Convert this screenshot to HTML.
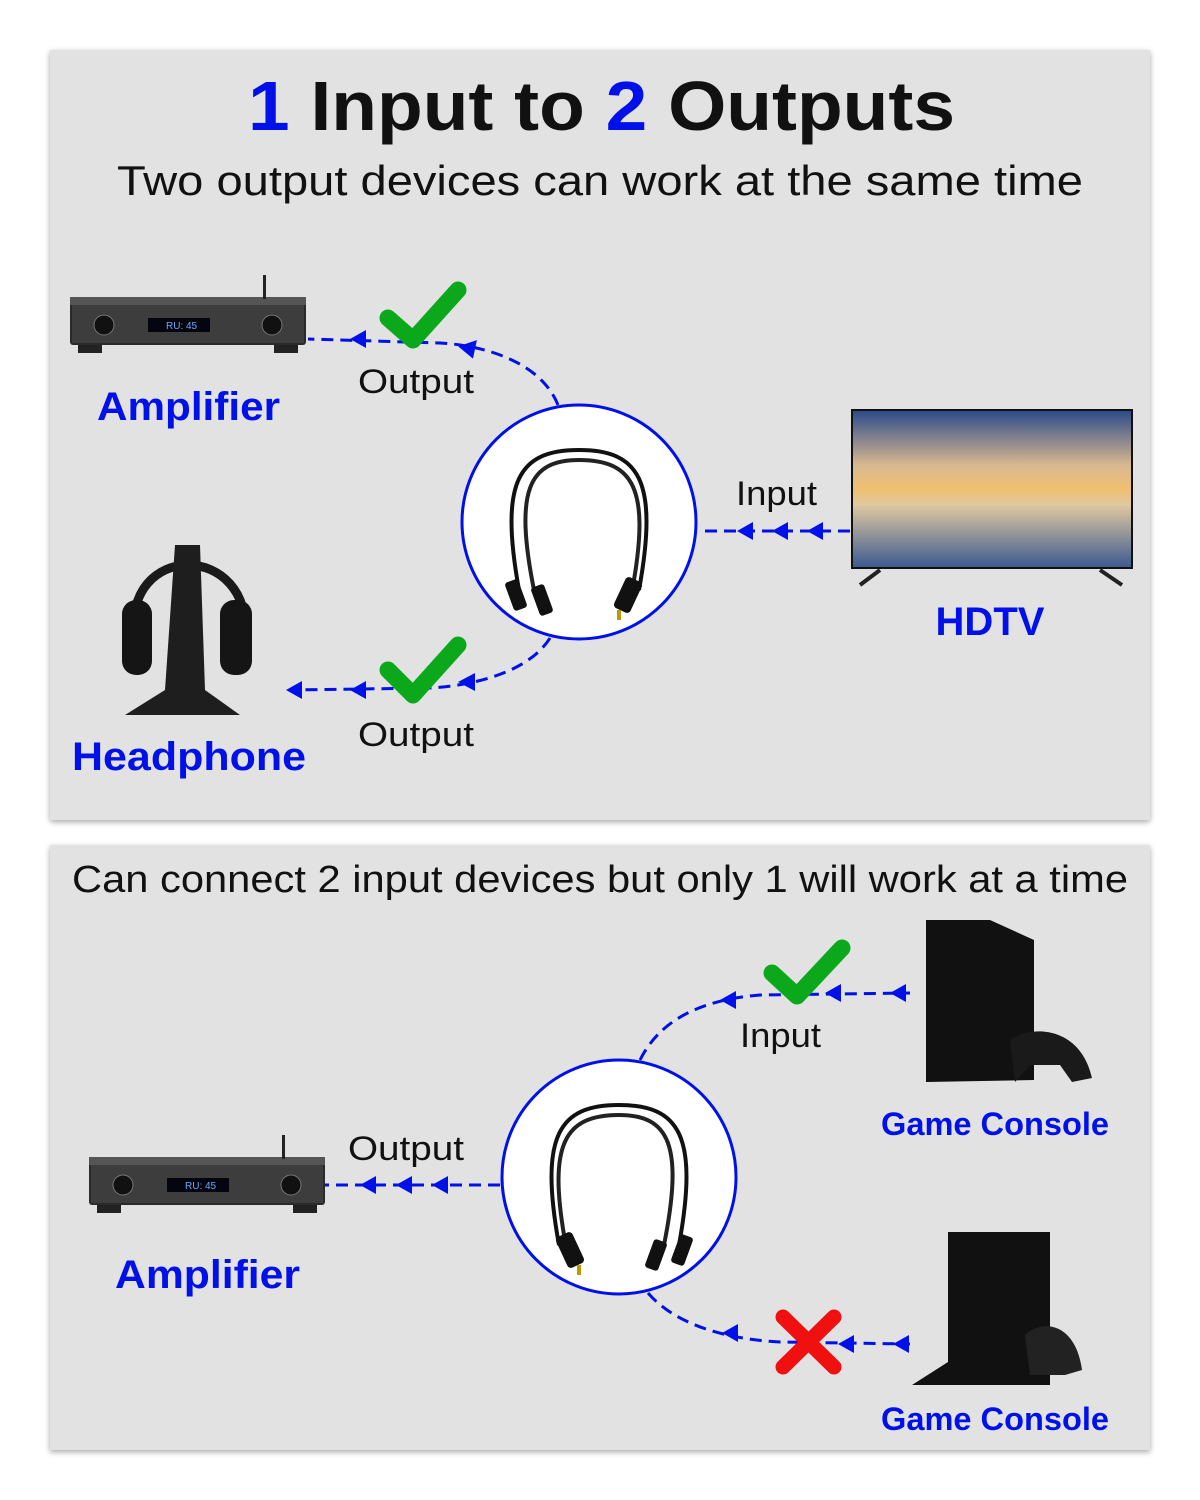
<!DOCTYPE html>
<html><head><meta charset="utf-8"><style>
html,body{margin:0;padding:0;background:#fff;width:1200px;height:1500px;overflow:hidden}
svg{display:block}
text{font-family:"Liberation Sans",sans-serif}
</style></head><body>
<svg width="1200" height="1500" viewBox="0 0 1200 1500" xmlns="http://www.w3.org/2000/svg">
<defs>
<filter id="sh" x="-5%" y="-5%" width="110%" height="110%"><feDropShadow dx="0" dy="2" stdDeviation="3" flood-color="#000" flood-opacity="0.35"/></filter>
<linearGradient id="tv" x1="0" y1="0" x2="0" y2="1"><stop offset="0" stop-color="#2a4a8a"/><stop offset="0.35" stop-color="#d8b890"/><stop offset="0.5" stop-color="#f0c070"/><stop offset="0.6" stop-color="#e0c8a0"/><stop offset="1" stop-color="#3a5a90"/></linearGradient>
<g id="amp">
<rect x="0" y="22" width="236" height="48" rx="3" fill="#2a2a2a"/>
<rect x="0" y="22" width="236" height="8" fill="#555"/>
<rect x="2" y="30" width="232" height="38" fill="#3d3d3d"/>
<circle cx="34" cy="50" r="10" fill="#111" stroke="#777"/>
<circle cx="202" cy="50" r="10" fill="#111" stroke="#777"/>
<rect x="78" y="43" width="62" height="14" fill="#050510"/>
<text x="96" y="54" font-size="10" fill="#6af">RU: 45</text>
<rect x="8" y="70" width="24" height="8" fill="#222"/><rect x="204" y="70" width="24" height="8" fill="#222"/>
<rect x="193" y="0" width="3" height="24" fill="#222"/>
</g>
<g id="cable">
<path d="M-60,50 C-80,-60 -60,-90 0,-90 C60,-90 80,-60 60,50" fill="none" stroke="#111" stroke-width="4"/>
<path d="M-45,50 C-65,-50 -50,-80 0,-80 C55,-80 70,-50 55,40" fill="none" stroke="#222" stroke-width="4"/>
<rect x="-70" y="40" width="14" height="30" rx="3" fill="#111" transform="rotate(-20 -63 55)"/>
<rect x="-44" y="45" width="14" height="30" rx="3" fill="#111" transform="rotate(-20 -37 60)"/>
<rect x="40" y="38" width="18" height="34" rx="4" fill="#111" transform="rotate(25 49 55)"/>
<rect x="38" y="70" width="4" height="10" fill="#b90"/>
</g>
</defs>
<rect x="50" y="50" width="1100" height="770" fill="#e2e2e2" filter="url(#sh)"/>
<rect x="50" y="845" width="1100" height="605" fill="#e2e2e2" filter="url(#sh)"/>
<text x="248" y="130" font-size="70" font-weight="bold" fill="#111" textLength="707" lengthAdjust="spacingAndGlyphs"><tspan fill="#0010e8">1</tspan> Input to <tspan fill="#0010e8">2</tspan> Outputs</text>
<text x="117" y="195" font-size="42" fill="#111" textLength="966" lengthAdjust="spacingAndGlyphs">Two output devices can work at the same time</text>
<use href="#amp" x="70" y="275"/>
<text x="97" y="420" font-size="40" font-weight="bold" fill="#0010e8" textLength="183" lengthAdjust="spacingAndGlyphs">Amplifier</text>
<g>
<path d="M135,640 C120,540 255,540 245,640" fill="none" stroke="#1a1a1a" stroke-width="9"/>
<rect x="122" y="600" width="30" height="75" rx="14" fill="#151515"/>
<rect x="220" y="600" width="32" height="75" rx="14" fill="#151515"/>
<path d="M175,545 L200,545 L205,690 L240,715 L125,715 L165,690 z" fill="#1e1e1e"/>
</g>
<text x="72" y="770" font-size="40" font-weight="bold" fill="#0010e8" textLength="234" lengthAdjust="spacingAndGlyphs">Headphone</text>
<rect x="852" y="410" width="280" height="158" fill="url(#tv)" stroke="#111" stroke-width="2"/>
<path d="M880,570 L860,585 M1100,570 L1122,585" stroke="#222" stroke-width="4"/>
<text x="990" y="635" text-anchor="middle" font-size="40" font-weight="bold" fill="#0010e8">HDTV</text>
<ellipse cx="579" cy="522" rx="117" ry="117" fill="#fff" stroke="#0010e8" stroke-width="3"/>
<use href="#cable" x="579" y="540"/>
<g fill="none" stroke="#0010e8" stroke-width="3" stroke-dasharray="12,7">
<path d="M558,405 C540,360 480,345 440,343 L308,339"/>
<path d="M550,638 C530,670 480,685 430,688 L290,690"/>
<path d="M850,531 L700,531"/>
<path d="M640,1060 C660,1020 700,1000 760,995 L910,993"/>
<path d="M648,1293 C680,1330 740,1340 780,1342 L910,1344"/>
<path d="M500,1185 L325,1185"/>
</g>
<g fill="#0010e8">
<path d="M350,339 l16,-9 v18z"/><path d="M458,348 l17,-10 v19z" transform="rotate(12 466 348)"/>
<path d="M286,690 l16,-9 v18z"/><path d="M350,690 l16,-9 v18z"/><path d="M458,682 l17,-9 v18z"/>
<path d="M737,531 l16,-9 v18z"/><path d="M772,531 l16,-9 v18z"/><path d="M807,531 l16,-9 v18z"/>
<path d="M720,1000 l16,-9 v18z"/><path d="M825,993 l16,-9 v18z"/><path d="M890,993 l16,-9 v18z"/>
<path d="M360,1185 l16,-9 v18z"/><path d="M396,1185 l16,-9 v18z"/><path d="M432,1185 l16,-9 v18z"/>
<path d="M722,1333 l16,-9 v18z"/><path d="M838,1344 l16,-9 v18z"/><path d="M893,1344 l16,-9 v18z"/>
</g>
<g fill="none" stroke="#0aa81a" stroke-width="17" stroke-linecap="round" stroke-linejoin="round">
<path d="M388,318 L413,340 L458,290"/>
<path d="M388,670 L413,695 L458,645"/>
<path d="M772,973 L797,996 L842,948"/>
</g>
<g stroke="#f01010" stroke-width="15" stroke-linecap="round"><path d="M783,1317 L834,1367 M834,1317 L783,1367"/></g>
<text x="358" y="393" font-size="34" fill="#111" textLength="116" lengthAdjust="spacingAndGlyphs">Output</text>
<text x="358" y="746" font-size="34" fill="#111" textLength="116" lengthAdjust="spacingAndGlyphs">Output</text>
<text x="736" y="505" font-size="34" fill="#111" textLength="81" lengthAdjust="spacingAndGlyphs">Input</text>
<text x="72" y="892" font-size="38" fill="#111" textLength="1056" lengthAdjust="spacingAndGlyphs">Can connect 2 input devices but only 1 will work at a time</text>
<ellipse cx="619" cy="1177" rx="117" ry="117" fill="#fff" stroke="#0010e8" stroke-width="3"/>
<use href="#cable" transform="translate(619 1195) scale(-1 1)"/>
<use href="#amp" x="89" y="1135"/>
<text x="115" y="1288" font-size="40" font-weight="bold" fill="#0010e8" textLength="185" lengthAdjust="spacingAndGlyphs">Amplifier</text>
<text x="348" y="1160" font-size="34" fill="#111" textLength="116" lengthAdjust="spacingAndGlyphs">Output</text>
<text x="740" y="1047" font-size="34" fill="#111" textLength="81" lengthAdjust="spacingAndGlyphs">Input</text>
<path d="M926,920 L990,920 L1034,940 L1034,1080 L926,1082 z" fill="#111"/>
<path d="M1010,1040 C1030,1025 1080,1025 1092,1078 L1072,1082 L1060,1065 L1030,1065 L1015,1082 z" fill="#1a1a1a"/>
<text x="881" y="1135" font-size="32" font-weight="bold" fill="#0010e8" textLength="228" lengthAdjust="spacingAndGlyphs">Game Console</text>
<path d="M948,1232 L1050,1232 L1050,1385 L912,1385 L948,1362 z" fill="#111"/>
<path d="M1025,1335 C1040,1320 1075,1320 1082,1370 L1065,1375 L1030,1375 z" fill="#222"/>
<text x="881" y="1430" font-size="32" font-weight="bold" fill="#0010e8" textLength="228" lengthAdjust="spacingAndGlyphs">Game Console</text>
</svg>
</body></html>
